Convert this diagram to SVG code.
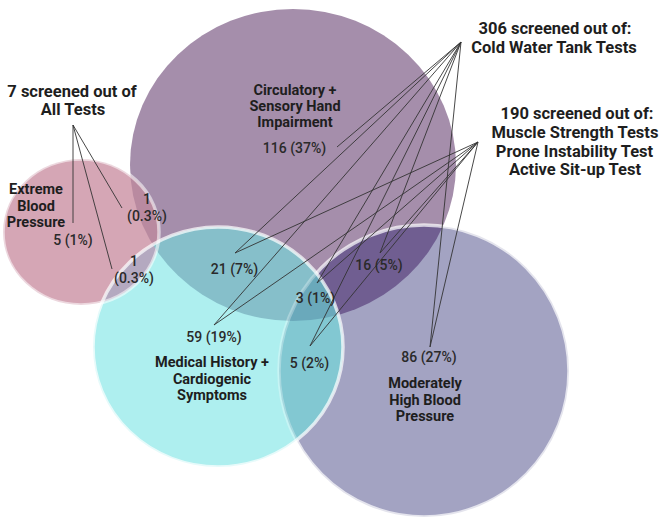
<svg xmlns="http://www.w3.org/2000/svg" width="661" height="520" viewBox="0 0 661 520">
  <style>
    .lbl { font-family: Roboto, "Liberation Sans", sans-serif; font-weight: 700; font-size: 14.5px; fill: #1e1e1e; text-anchor: middle; }
    .big { font-size: 16.5px; }
    .head { font-size: 16.5px; }
    .num { font-family: Roboto, "Liberation Sans", sans-serif; font-weight: 500; font-size: 14px; fill: #2a2a2a; text-anchor: middle; }
    .rim { fill: none; stroke: #ffffff; stroke-width: 3.5; }
    .link { stroke: #333333; stroke-width: 0.9; fill: none; }
  </style>
  <defs>
    <clipPath id="clip-circ"><ellipse cx="293" cy="165" rx="163" ry="156"/></clipPath>
    <clipPath id="clip-ebp"><ellipse cx="81" cy="232" rx="78" ry="73"/></clipPath>
    <clipPath id="clip-med"><ellipse cx="218" cy="347" rx="125" ry="120"/></clipPath>
    <clipPath id="clip-mhbp"><ellipse cx="424" cy="371" rx="145" ry="146"/></clipPath>
    <clipPath id="clip-outside-med">
      <path clip-rule="evenodd" d="M0,0H661V520H0Z M93,347 a125,120 0 1,0 250,0 a125,120 0 1,0 -250,0Z"/>
    </clipPath>
  </defs>

  <rect width="661" height="520" fill="#ffffff"/>

  <!-- Sets -->
  <g id="set-circulatory">
    <ellipse cx="293" cy="165" rx="163" ry="156" fill="#a58eab"/>
  </g>
  <g id="set-extreme-bp">
    <ellipse cx="81" cy="232" rx="78" ry="73" fill="#d5a6b5"/>
  </g>
  <g id="set-moderate-bp">
    <ellipse cx="424" cy="371" rx="145" ry="146" fill="#a3a3c2"/>
  </g>
  <g id="set-medical">
    <ellipse cx="218" cy="347" rx="125" ry="120" fill="#aeefef"/>
  </g>

  <!-- Overlap regions -->
  <g id="overlaps">
    <ellipse cx="81" cy="232" rx="78" ry="73" fill="#b98aa0" clip-path="url(#clip-circ)"/>
    <ellipse cx="81" cy="232" rx="78" ry="73" fill="#b4a9c0" clip-path="url(#clip-med)"/>
    <ellipse cx="424" cy="371" rx="145" ry="146" fill="#705e91" clip-path="url(#clip-circ)"/>
    <ellipse cx="218" cy="347" rx="125" ry="120" fill="#86bfca" clip-path="url(#clip-circ)"/>
    <ellipse cx="218" cy="347" rx="125" ry="120" fill="#82c8d2" clip-path="url(#clip-mhbp)"/>
    <g clip-path="url(#clip-circ)">
      <ellipse cx="218" cy="347" rx="125" ry="120" fill="#6aa9bb" clip-path="url(#clip-mhbp)"/>
    </g>
  </g>

  <!-- Set outlines -->
  <g id="outlines">
    <ellipse class="rim" cx="81" cy="232" rx="78" ry="73" stroke-opacity="0.55"/>
    <ellipse class="rim" cx="424" cy="371" rx="145" ry="146" stroke-opacity="0.7" clip-path="url(#clip-outside-med)"/>
    <ellipse class="rim" cx="424" cy="371" rx="145" ry="146" stroke-opacity="0.3" clip-path="url(#clip-med)"/>
    <ellipse class="rim" cx="218" cy="347" rx="125" ry="120" stroke-opacity="0.7"/>
  </g>

  <!-- Connectors from the screening notes to the counts -->
  <g id="connectors">
    <!-- All tests -->
    <line class="link" x1="73" y1="125" x2="73" y2="223"/>
    <line class="link" x1="73" y1="125" x2="122" y2="208"/>
    <line class="link" x1="73" y1="125" x2="112" y2="269"/>
    <!-- Cold water tank tests -->
    <line class="link" x1="461" y1="42" x2="337" y2="147"/>
    <line class="link" x1="461" y1="42" x2="235" y2="253"/>
    <line class="link" x1="461" y1="42" x2="214" y2="325"/>
    <line class="link" x1="461" y1="42" x2="317" y2="283"/>
    <line class="link" x1="461" y1="42" x2="380" y2="253"/>
    <line class="link" x1="461" y1="42" x2="310" y2="346"/>
    <line class="link" x1="461" y1="42" x2="430" y2="347"/>
    <!-- Muscle strength / prone instability / active sit-up tests -->
    <line class="link" x1="478" y1="142" x2="235" y2="253"/>
    <line class="link" x1="478" y1="142" x2="214" y2="325"/>
    <line class="link" x1="478" y1="142" x2="317" y2="283"/>
    <line class="link" x1="478" y1="142" x2="380" y2="253"/>
    <line class="link" x1="478" y1="142" x2="310" y2="346"/>
    <line class="link" x1="478" y1="142" x2="430" y2="347"/>
  </g>

  <!-- Set names -->
  <g id="set-names">
    <text class="lbl"><tspan x="295" y="95">Circulatory +</tspan><tspan x="295" y="111">Sensory Hand</tspan><tspan x="295" y="127">Impairment</tspan></text>
    <text class="lbl"><tspan x="36" y="194">Extreme</tspan><tspan x="36" y="211">Blood</tspan><tspan x="36" y="227">Pressure</tspan></text>
    <text class="lbl"><tspan x="212" y="367">Medical History +</tspan><tspan x="212" y="384">Cardiogenic</tspan><tspan x="212" y="400">Symptoms</tspan></text>
    <text class="lbl"><tspan x="425" y="388">Moderately</tspan><tspan x="425" y="405">High Blood</tspan><tspan x="425" y="421">Pressure</tspan></text>
  </g>

  <!-- Counts -->
  <g id="counts">
    <text class="num" x="294.5" y="153">116 (37%)</text>
    <text class="num" x="73" y="245">5 (1%)</text>
    <text class="num"><tspan x="147" y="204">1</tspan><tspan x="147" y="221">(0.3%)</tspan></text>
    <text class="num"><tspan x="134" y="266">1</tspan><tspan x="134" y="283">(0.3%)</tspan></text>
    <text class="num" x="234.5" y="274">21 (7%)</text>
    <text class="num" x="379" y="270">16 (5%)</text>
    <text class="num" x="315.5" y="303">3 (1%)</text>
    <text class="num" x="214" y="342">59 (19%)</text>
    <text class="num" x="309.5" y="368">5 (2%)</text>
    <text class="num" x="429" y="362">86 (27%)</text>
  </g>

  <!-- Screening notes -->
  <g id="notes">
    <text class="lbl big"><tspan x="72" y="97">7 screened out of</tspan><tspan x="73" y="115">All Tests</tspan></text>
    <text class="lbl head"><tspan x="555" y="34">306 screened out of:</tspan><tspan x="554" y="53">Cold Water Tank Tests</tspan></text>
    <text class="lbl head"><tspan x="577" y="119">190 screened out of:</tspan><tspan x="575" y="138">Muscle Strength Tests</tspan><tspan x="574.5" y="157">Prone Instability Test</tspan><tspan x="575" y="175">Active Sit-up Test</tspan></text>
  </g>
</svg>
